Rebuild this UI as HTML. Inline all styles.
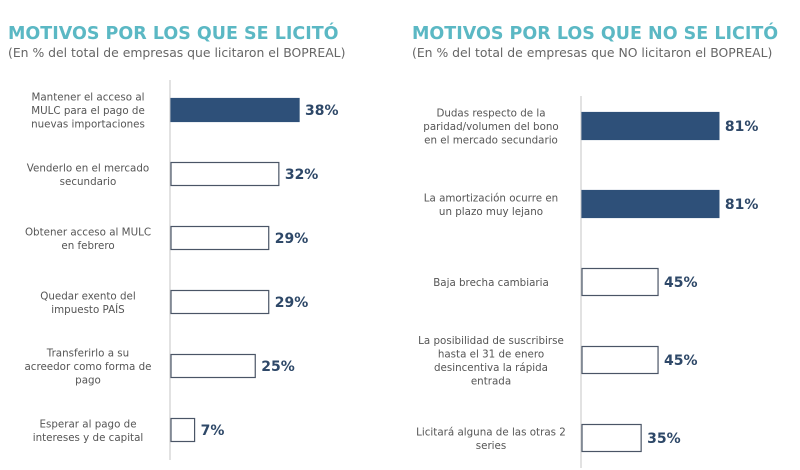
<!DOCTYPE html>
<html><head><meta charset="utf-8"><style>
body{margin:0;width:800px;height:470px;background:#fff;overflow:hidden;font-family:"DejaVu Sans",sans-serif;position:relative}
.t{position:absolute;font-weight:bold;font-size:17.5px;color:#5bb8c4}
.s{position:absolute;font-size:12.4px;color:#666}
</style></head><body>
<div class="t" style="left:8px;top:24px">MOTIVOS POR LOS QUE SE LICITÓ</div>
<div class="s" style="left:8px;top:45px">(En % del total de empresas que licitaron el BOPREAL)</div>
<div class="t" style="left:412px;top:24px">MOTIVOS POR LOS QUE NO SE LICITÓ</div>
<div class="s" style="left:412px;top:45px">(En % del total de empresas que NO licitaron el BOPREAL)</div>
<svg id="c" width="800" height="470" style="position:absolute;left:0;top:0"></svg>
<script>
const leftCats=["Mantener el acceso al|MULC para el pago de|nuevas importaciones","Venderlo en el mercado|secundario","Obtener acceso al MULC|en febrero","Quedar exento del|impuesto PAÍS","Transferirlo a su|acreedor como forma de|pago","Esperar al pago de|intereses y de capital"];
const leftVals=[38,32,29,29,25,7];
const leftFilled=[true,false,false,false,false,false];
const rightCats=["Dudas respecto de la|paridad/volumen del bono|en el mercado secundario","La amortización ocurre en|un plazo muy lejano","Baja brecha cambiaria","La posibilidad de suscribirse|hasta el 31 de enero|desincentiva la rápida|entrada","Licitará alguna de las otras 2|series"];
const rightVals=[81,81,45,45,35];
const rightFilled=[true,true,false,false,false];
const NS="http://www.w3.org/2000/svg";
const svg=document.getElementById('c');
function mk(t,a){const e=document.createElementNS(NS,t);for(const k in a)e.setAttribute(k,a[k]);svg.appendChild(e);return e;}
function panel(cats,vals,filled,ax,top,step,bh,scale,labCx,prefix){
  const al=mk('line',{x1:ax,x2:ax,y1:top-30,y2:top+step*(cats.length-1)+30,stroke:'#d8d8d8','stroke-width':1.5});
  
  
  cats.forEach((c,i)=>{
    const cy=top+i*step, w=vals[i]*scale;
    const r=mk('rect',{x:ax+1,y:cy-bh/2,width:w,height:bh,fill:filled[i]?'#2e5079':'#fff',stroke:filled[i]?'#2e5079':'#4a5566','stroke-width':1.2});
    
    
    const v=mk('text',{x:ax+w+7,y:cy+5,'font-size':14,'font-weight':'bold',fill:'#2e4868','font-family':'DejaVu Sans'});
    v.textContent=vals[i]+'%';
    
    
    const lines=c.split('|');const lh=13.5;
    const t=mk('text',{x:labCx,'text-anchor':'middle','font-size':10.3,fill:'#555','font-family':'DejaVu Sans'});
    
    
    lines.forEach((l,j)=>{const s=document.createElementNS(NS,'tspan');s.setAttribute('x',labCx);s.setAttribute('y',cy+4+(j-(lines.length-1)/2)*lh);s.textContent=l;t.appendChild(s);});
  });
}
panel(leftCats,leftVals,leftFilled,170,110,64,23,3.37,88,'left');
panel(rightCats,rightVals,rightFilled,581,126,78,27,1.69,491,'right');
</script>
</body></html>
